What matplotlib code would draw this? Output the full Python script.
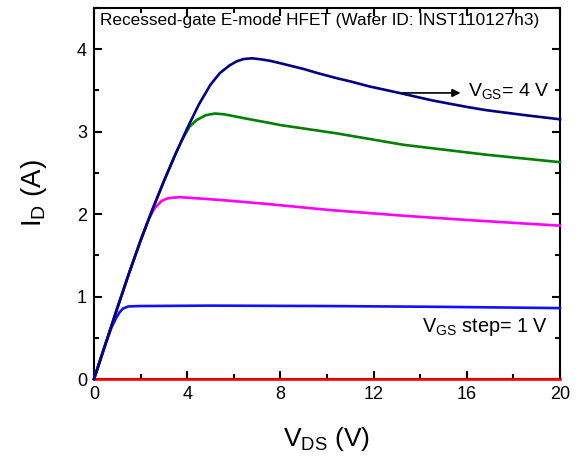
import numpy as np
import matplotlib
matplotlib.use("Agg")
import matplotlib.pyplot as plt
from matplotlib.ticker import MultipleLocator

plt.rcParams['font.family'] = ['Liberation Sans', 'DejaVu Sans']
plt.rcParams['mathtext.fontset'] = 'custom'
plt.rcParams['mathtext.rm'] = 'Liberation Sans'
plt.rcParams['mathtext.it'] = 'Liberation Sans'

# %%
# output curves
vds_4 = [0, 0.5, 1.0, 1.5, 2.0, 2.5, 3.0, 3.5, 4.0, 4.5, 5.0, 5.4, 5.8, 6.1, 6.4, 6.77,
         7.1, 7.55, 8.0, 9.0, 9.6, 10.4, 11.0, 11.8, 13.1, 14.5, 16.0, 16.85, 18.5, 20.0]
id_4 = [0, 0.43, 0.86, 1.28, 1.68, 2.05, 2.40, 2.73, 3.04, 3.33, 3.57, 3.71, 3.80, 3.85, 3.88, 3.89,
        3.88, 3.86, 3.83, 3.76, 3.71, 3.65, 3.61, 3.55, 3.47, 3.38, 3.30, 3.26, 3.20, 3.15]

vds_3 = [0, 0.5, 1.0, 1.5, 2.0, 2.5, 3.0, 3.5, 3.8, 4.1, 4.4, 4.8, 5.19, 5.6, 6.5, 7.55,
         8.0, 10.4, 13.3, 16.85, 20.0]
id_3 = [0, 0.43, 0.86, 1.28, 1.68, 2.05, 2.40, 2.73, 2.91, 3.06, 3.14, 3.20, 3.22, 3.21, 3.16, 3.105,
        3.08, 2.98, 2.84, 2.72, 2.63]

vds_2 = [0, 0.5, 1.0, 1.5, 2.0, 2.33, 2.6, 2.9, 3.15, 3.4, 3.7, 4.5, 5.5, 7.55, 10.1, 13.3, 16.5, 20.0]
id_2 = [0, 0.43, 0.86, 1.28, 1.68, 1.93, 2.07, 2.16, 2.19, 2.20, 2.205, 2.19, 2.17, 2.12, 2.05, 1.98, 1.92, 1.86]

vds_1 = [0, 0.5, 0.76, 0.95, 1.1, 1.25, 1.47, 2.0, 5.0, 10.0, 15.0, 20.0]
id_1 = [0, 0.43, 0.63, 0.74, 0.81, 0.855, 0.88, 0.885, 0.89, 0.885, 0.875, 0.86]

vds_0 = [0, 20.0]
id_0 = [0, 0]

curves = [
    (vds_0, id_0, '#ff0000'),
    (vds_1, id_1, '#1010ff'),
    (vds_2, id_2, '#ff00ff'),
    (vds_3, id_3, '#008000'),
    (vds_4, id_4, '#000080'),
]

# %%
fig = plt.figure(figsize=(5.79, 4.57), dpi=100)
ax = fig.add_axes([94 / 579, 1 - 379 / 457, 466 / 579, 371 / 457])

for v, i, c in curves:
    ax.plot(v, i, color=c, lw=1.9, clip_on=False, zorder=3, solid_joinstyle='round')

ax.set_xlim(0, 20)
ax.set_ylim(0, 4.5)
ax.xaxis.set_major_locator(MultipleLocator(4))
ax.xaxis.set_minor_locator(MultipleLocator(2))
ax.yaxis.set_major_locator(MultipleLocator(1))
ax.yaxis.set_minor_locator(MultipleLocator(0.5))
ax.tick_params(which='both', direction='in', top=True, right=True, width=1.5)
ax.tick_params(which='major', length=6, labelsize=13, pad=5)
ax.tick_params(which='minor', length=3.5)
for s in ax.spines.values():
    s.set_linewidth(1.5)

ax.set_xlabel(r'$\mathregular{V_{DS}}$ (V)', fontsize=19, labelpad=16)
ax.set_ylabel(r'$\mathregular{I_{D}}$ (A)', fontsize=20, labelpad=20)

ax.text(0.013, 0.966, 'Recessed-gate E-mode HFET (Wafer ID: INST110127h3)',
        transform=ax.transAxes, fontsize=12.4, va='center', ha='left')

ax.annotate('', xy=(15.85, 3.47), xytext=(13.14, 3.47),
            arrowprops=dict(arrowstyle='-|>', color='black', lw=1.2, mutation_scale=12))
ax.text(16.05, 3.49, r'$\mathregular{V_{GS}}$= 4 V', fontsize=14, va='center', ha='left')
ax.text(14.07, 0.63, r'$\mathregular{V_{GS}}$ step= 1 V', fontsize=14.3, va='center', ha='left')

fig.savefig('out.png', dpi=100)
